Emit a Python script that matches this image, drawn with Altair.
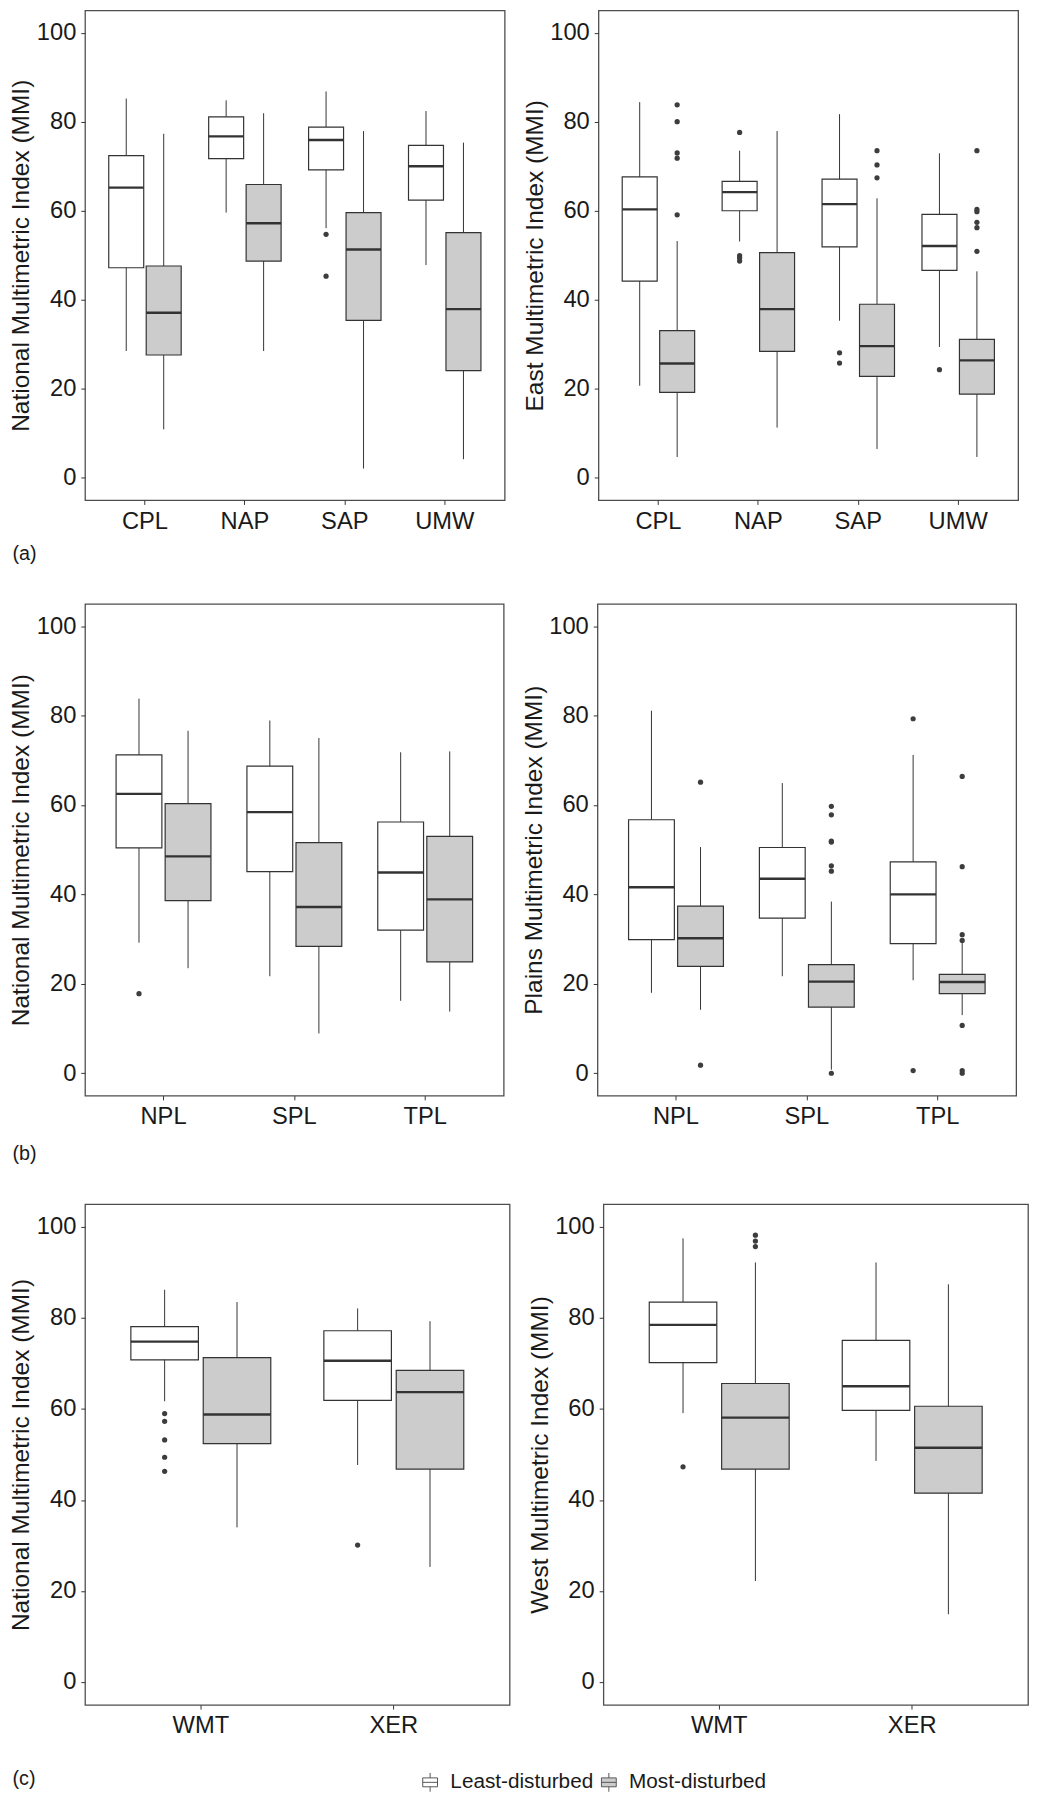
import altair as alt
import pandas as pd

FONT = "Liberation Sans"
TEXT = "#1a1a1a"
LINE = "#333333"
GROUPS = ["Least-disturbed", "Most-disturbed"]
FILLS = ["#ffffff", "#cccccc"]

A_REGIONS = ["CPL", "NAP", "SAP", "UMW"]
B_REGIONS = ["NPL", "SPL", "TPL"]
C_REGIONS = ["WMT", "XER"]

STAT_COLS = ["region", "group", "lower", "q1", "median", "q3", "upper"]
OUT_COLS = ["region", "group", "value"]

A_NATIONAL_STATS = [
    ("CPL", "Least-disturbed", 28.5, 47.2, 65.2, 72.4, 85.2),
    ("CPL", "Most-disturbed", 10.9, 27.6, 37.1, 47.6, 77.3),
    ("NAP", "Least-disturbed", 59.6, 71.7, 76.7, 81.1, 84.8),
    ("NAP", "Most-disturbed", 28.5, 48.7, 57.2, 65.9, 81.9),
    ("SAP", "Least-disturbed", 56.1, 69.2, 75.9, 78.8, 86.8),
    ("SAP", "Most-disturbed", 2.1, 35.4, 51.3, 59.6, 77.9),
    ("UMW", "Least-disturbed", 47.8, 62.4, 70.0, 74.7, 82.4),
    ("UMW", "Most-disturbed", 4.2, 24.1, 37.9, 55.1, 75.3),
]
A_NATIONAL_OUTLIERS = [
    ("SAP", "Least-disturbed", 54.7),
    ("SAP", "Least-disturbed", 45.3),
]

A_EAST_STATS = [
    ("CPL", "Least-disturbed", 20.7, 44.2, 60.3, 67.6, 84.4),
    ("CPL", "Most-disturbed", 4.7, 19.2, 25.7, 33.1, 53.2),
    ("NAP", "Least-disturbed", 53.1, 60.0, 64.2, 66.6, 73.5),
    ("NAP", "Most-disturbed", 11.3, 28.4, 37.9, 50.6, 77.9),
    ("SAP", "Least-disturbed", 35.3, 51.9, 61.5, 67.1, 81.7),
    ("SAP", "Most-disturbed", 6.5, 22.8, 29.6, 39.0, 62.8),
    ("UMW", "Least-disturbed", 29.4, 46.6, 52.1, 59.2, 72.9),
    ("UMW", "Most-disturbed", 4.7, 18.8, 26.4, 31.1, 46.4),
]
A_EAST_OUTLIERS = [
    ("CPL", "Most-disturbed", 83.8), ("CPL", "Most-disturbed", 80.0),
    ("CPL", "Most-disturbed", 73.0), ("CPL", "Most-disturbed", 71.8),
    ("CPL", "Most-disturbed", 59.1),
    ("NAP", "Least-disturbed", 77.6), ("NAP", "Least-disturbed", 49.9),
    ("NAP", "Least-disturbed", 49.4), ("NAP", "Least-disturbed", 48.7),
    ("SAP", "Least-disturbed", 28.1), ("SAP", "Least-disturbed", 25.8),
    ("SAP", "Most-disturbed", 73.5), ("SAP", "Most-disturbed", 70.3),
    ("SAP", "Most-disturbed", 67.4),
    ("UMW", "Least-disturbed", 24.3),
    ("UMW", "Most-disturbed", 73.5), ("UMW", "Most-disturbed", 60.3),
    ("UMW", "Most-disturbed", 59.8), ("UMW", "Most-disturbed", 57.4),
    ("UMW", "Most-disturbed", 56.2), ("UMW", "Most-disturbed", 50.9),
]

B_NATIONAL_STATS = [
    ("NPL", "Least-disturbed", 29.2, 50.4, 62.5, 71.2, 83.8),
    ("NPL", "Most-disturbed", 23.5, 38.6, 48.5, 60.3, 76.6),
    ("SPL", "Least-disturbed", 21.7, 45.1, 58.4, 68.7, 78.9),
    ("SPL", "Most-disturbed", 8.9, 28.4, 37.2, 51.6, 75.0),
    ("TPL", "Least-disturbed", 16.2, 32.0, 44.9, 56.2, 71.8),
    ("TPL", "Most-disturbed", 13.8, 24.9, 38.9, 53.0, 72.0),
]
B_NATIONAL_OUTLIERS = [
    ("NPL", "Least-disturbed", 17.8),
]

B_PLAINS_STATS = [
    ("NPL", "Least-disturbed", 18.0, 29.9, 41.6, 56.7, 81.1),
    ("NPL", "Most-disturbed", 14.2, 23.9, 30.2, 37.4, 50.6),
    ("SPL", "Least-disturbed", 21.7, 34.7, 43.5, 50.5, 64.9),
    ("SPL", "Most-disturbed", 0.8, 14.8, 20.5, 24.3, 38.4),
    ("TPL", "Least-disturbed", 20.8, 29.0, 40.0, 47.3, 71.2),
    ("TPL", "Most-disturbed", 13.0, 17.8, 20.4, 22.1, 29.2),
]
B_PLAINS_OUTLIERS = [
    ("NPL", "Most-disturbed", 65.1), ("NPL", "Most-disturbed", 1.8),
    ("SPL", "Most-disturbed", 59.7), ("SPL", "Most-disturbed", 57.8),
    ("SPL", "Most-disturbed", 51.9), ("SPL", "Most-disturbed", 51.7),
    ("SPL", "Most-disturbed", 46.4), ("SPL", "Most-disturbed", 45.2),
    ("SPL", "Most-disturbed", 0.0),
    ("TPL", "Least-disturbed", 79.3), ("TPL", "Least-disturbed", 0.6),
    ("TPL", "Most-disturbed", 66.4), ("TPL", "Most-disturbed", 46.2),
    ("TPL", "Most-disturbed", 31.0), ("TPL", "Most-disturbed", 29.7),
    ("TPL", "Most-disturbed", 10.7), ("TPL", "Most-disturbed", 0.6),
    ("TPL", "Most-disturbed", 0.0),
]

C_NATIONAL_STATS = [
    ("WMT", "Least-disturbed", 61.7, 70.8, 74.8, 78.1, 86.2),
    ("WMT", "Most-disturbed", 34.0, 52.4, 58.8, 71.3, 83.5),
    ("XER", "Least-disturbed", 47.7, 61.9, 70.6, 77.2, 82.1),
    ("XER", "Most-disturbed", 25.3, 46.8, 63.7, 68.5, 79.3),
]
C_NATIONAL_OUTLIERS = [
    ("WMT", "Least-disturbed", 59.0), ("WMT", "Least-disturbed", 57.3),
    ("WMT", "Least-disturbed", 53.2), ("WMT", "Least-disturbed", 49.4),
    ("WMT", "Least-disturbed", 46.3),
    ("XER", "Least-disturbed", 30.1),
]

C_WEST_STATS = [
    ("WMT", "Least-disturbed", 59.1, 70.2, 78.5, 83.5, 97.5),
    ("WMT", "Most-disturbed", 22.2, 46.8, 58.1, 65.6, 92.2),
    ("XER", "Least-disturbed", 48.6, 59.7, 65.0, 75.1, 92.2),
    ("XER", "Most-disturbed", 14.9, 41.5, 51.5, 60.6, 87.4),
]
C_WEST_OUTLIERS = [
    ("WMT", "Least-disturbed", 47.3),
    ("WMT", "Most-disturbed", 98.2), ("WMT", "Most-disturbed", 96.9),
    ("WMT", "Most-disturbed", 95.7),
]

Y_TICKS = [0, 20, 40, 60, 80, 100]
Y_DOMAIN = [-5, 105]

GLYPH = ("M-0.75,-0.45H0.75V0.45H-0.75Z M-0.75,0H0.75 "
         "M0,-0.45V-0.95 M0,0.45V0.95")

LEGEND = alt.Legend(
    title=None, orient="none", legendX=339, legendY=1784,
    direction="horizontal", symbolType=GLYPH, symbolSize=400,
    symbolStrokeColor="#555555", symbolStrokeWidth=1, symbolOpacity=1,
    labelFont=FONT, labelFontSize=21, labelColor=TEXT,
    labelOffset=10, columnPadding=5, padding=0,
)


def panel(stats, outliers, regions, ytitle, width, height, tag=None, tag_y=0):
    box = pd.DataFrame(stats, columns=STAT_COLS)
    out = pd.DataFrame(outliers, columns=OUT_COLS)
    band = 0.35 * width / (len(regions) + 0.2)
    if tag:
        xaxis = alt.Axis(title=tag, labelAngle=0, titleFontSize=20,
                         titleAnchor="start", titleAlign="left",
                         titleBaseline="middle", titleX=-74, titleY=tag_y)
    else:
        xaxis = alt.Axis(title=None, labelAngle=0)
    x = alt.X("region:N", sort=regions,
              scale=alt.Scale(domain=regions, paddingInner=0, paddingOuter=0.1),
              axis=xaxis)
    xo = alt.XOffset("group:N", sort=GROUPS,
                     scale=alt.Scale(domain=GROUPS, paddingInner=0.0667,
                                     paddingOuter=0.3667))
    ysc = alt.Scale(domain=Y_DOMAIN, nice=False, zero=False)
    yax = alt.Axis(title=ytitle, values=Y_TICKS)
    whisk = alt.Chart(box).mark_rule(color=LINE, strokeWidth=1).encode(
        x=x, xOffset=xo,
        y=alt.Y("lower:Q", scale=ysc, axis=yax), y2="upper:Q")
    boxes = alt.Chart(box).mark_bar(stroke=LINE, strokeWidth=1.2, opacity=1).encode(
        x=x, xOffset=xo,
        y=alt.Y("q1:Q", scale=ysc, axis=yax), y2="q3:Q",
        fill=alt.Fill("group:N", scale=alt.Scale(domain=GROUPS, range=FILLS),
                      legend=LEGEND))
    med = alt.Chart(box).mark_tick(color=LINE, thickness=2.4, size=band,
                                   opacity=1).encode(
        x=x, xOffset=xo, y=alt.Y("median:Q", scale=ysc, axis=yax))
    pts = alt.Chart(out).mark_circle(size=28, color="#3d3d3d", opacity=1).encode(
        x=x, xOffset=xo, y=alt.Y("value:Q", scale=ysc, axis=yax))
    return alt.layer(whisk, boxes, med, pts).properties(width=width, height=height)


row_a = alt.hconcat(
    panel(A_NATIONAL_STATS, A_NATIONAL_OUTLIERS, A_REGIONS,
          "National Multimetric Index (MMI)", 425, 496, "(a)", 54),
    panel(A_EAST_STATS, A_EAST_OUTLIERS, A_REGIONS,
          "East Multimetric Index (MMI)", 425, 496),
    spacing=16).resolve_scale(xOffset="independent")

row_b = alt.hconcat(
    panel(B_NATIONAL_STATS, B_NATIONAL_OUTLIERS, B_REGIONS,
          "National Multimetric Index (MMI)", 424, 498, "(b)", 59),
    panel(B_PLAINS_STATS, B_PLAINS_OUTLIERS, B_REGIONS,
          "Plains Multimetric Index (MMI)", 424, 498),
    spacing=16).resolve_scale(xOffset="independent")

row_c = alt.hconcat(
    panel(C_NATIONAL_STATS, C_NATIONAL_OUTLIERS, C_REGIONS,
          "National Multimetric Index (MMI)", 430, 507, "(c)", 75),
    panel(C_WEST_STATS, C_WEST_OUTLIERS, C_REGIONS,
          "West Multimetric Index (MMI)", 430, 507),
    spacing=16).resolve_scale(xOffset="independent")

chart = alt.vconcat(row_a, row_b, row_c, spacing=39).resolve_scale(
    xOffset="independent"
).properties(
    padding={"top": -10, "bottom": 0, "left": 0, "right": 0}
).configure(font=FONT).configure_view(
    stroke="#4d4d4d", strokeWidth=1.3
).configure_axis(
    labelFont=FONT, titleFont=FONT, labelColor=TEXT, titleColor=TEXT,
    labelFontSize=24, titleFontSize=24.8, titleFontWeight="normal",
    tickColor=LINE, tickSize=4.3, tickWidth=1, domain=False, grid=False,
    labelPadding=5,
).configure_axisY(titlePadding=2.5)

chart.save("out.html", embed_options={"renderer": "svg", "actions": False})
